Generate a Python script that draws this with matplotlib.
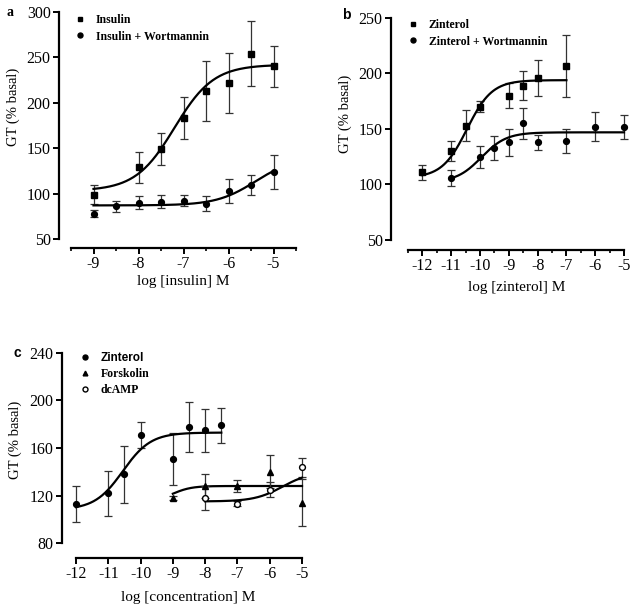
import numpy as np
import matplotlib
matplotlib.use("Agg")
import matplotlib.pyplot as plt
from matplotlib.ticker import MultipleLocator

plt.rcParams["axes.unicode_minus"] = False

W, H = 640, 611
SERIF = "Liberation Serif"
SANS = "Liberation Sans"

# ---- panel a: insulin +/- wortmannin ----
ins_x = [-9, -8, -7.5, -7, -6.5, -6, -5.5, -5]
ins_y = [99, 129, 149, 183, 213, 222, 254, 240]
ins_err = [10, 17, 18, 23, 33, 33, 36, 23]
ins_fit = (103, 242, -7.2, 1.0)  # bottom, top, logEC50, hill

insw_x = [-9, -8.5, -8, -7.5, -7, -6.5, -6, -5.5, -5]
insw_y = [78, 86, 90, 91, 92, 89, 103, 110, 124]
insw_err = [4, 6, 7, 7, 6, 8, 13, 11, 19]
insw_fit = (87, 140, -5.4, 1.0)

# ---- panel b: zinterol +/- wortmannin ----
zin_x = [-12, -11, -10.5, -10, -9, -8.5, -8, -7]
zin_y = [111, 130, 153, 170, 180, 189, 196, 207]
zin_err = [7, 9, 14, 5, 11, 13, 16, 28]
zin_fit = (106, 194, -10.45, 1.0)

zinw_x = [-11, -10, -9.5, -9, -8.5, -8, -7, -6, -5]
zinw_y = [106, 125, 133, 138, 155, 138, 139, 152, 152]
zinw_err = [7, 10, 11, 12, 14, 7, 11, 13, 11]
zinw_fit = (102, 147, -9.95, 1.0)

# ---- panel c: zinterol, forskolin, dcAMP ----
cz_x = [-12, -11, -10.5, -10, -9, -8.5, -8, -7.5]
cz_y = [113, 122, 138, 171, 151, 178, 175, 179]
cz_err = [15, 19, 24, 11, 22, 21, 18, 15]
cz_fit = (108, 173, -10.55, 1.0)

fsk_x = [-9, -8, -7, -6, -5]
fsk_y = [118, 128, 128, 140, 114]
fsk_err = [2, 10, 5, 14, 20]
fsk_fit = (115, 128, -9.0, 1.5)

dc_x = [-8, -7, -6, -5]
dc_y = [118, 113, 125, 144]
dc_err = [10, 2, 6, 8]
dc_fit = (115, 140, -5.6, 1.0)


def logistic(x, p):
    bottom, top, ec50, hill = p
    return bottom + (top - bottom) / (1 + 10 ** ((ec50 - x) * hill))


fig = plt.figure(figsize=(W / 100, H / 100), dpi=100)


def place(left, right, top, bottom):
    return fig.add_axes([left / W, 1 - bottom / H, (right - left) / W, (bottom - top) / H])


def style(ax, xlim, ylim, yticks, xmajor, xminor, off_left, off_bottom):
    ax.set_xlim(*xlim)
    ax.set_ylim(*ylim)
    for s in ["top", "right"]:
        ax.spines[s].set_visible(False)
    ax.spines["left"].set_position(("outward", off_left * 0.72))
    ax.spines["bottom"].set_position(("outward", off_bottom * 0.72))
    ax.spines["left"].set_bounds(*ylim)
    ax.spines["bottom"].set_bounds(*xlim)
    for s in ["left", "bottom"]:
        ax.spines[s].set_linewidth(1.6)
    ax.set_yticks(yticks)
    ax.xaxis.set_major_locator(MultipleLocator(xmajor))
    if xminor:
        ax.xaxis.set_minor_locator(MultipleLocator(xminor))
    ax.tick_params(which="major", direction="out", length=4, width=1.4, labelsize=11.5, pad=2)
    ax.tick_params(which="minor", direction="out", length=2.5, width=1.2)
    for lab in ax.get_xticklabels() + ax.get_yticklabels():
        lab.set_fontfamily(SERIF)
    ax.patch.set_alpha(0)


def series(ax, x, y, err, marker, fit, fill="black", ms=4.2):
    ax.errorbar(x, y, yerr=err, fmt="none", ecolor="#333333", elinewidth=0.9,
                capsize=3, capthick=0.9, clip_on=False, zorder=2)
    line, = ax.plot(x, y, linestyle="none", marker=marker, ms=ms, mfc=fill,
                    mec="black", mew=1.0, clip_on=False, zorder=3)
    xs = np.linspace(min(x), max(x), 200)
    ax.plot(xs, logistic(xs, fit), color="black", lw=1.6, clip_on=False, zorder=2)
    return line


def labels(ax, xl, yl, xpos, ypos):
    ax.set_xlabel(xl, fontfamily=SERIF, fontsize=11)
    ax.set_ylabel(yl, fontfamily=SERIF, fontsize=10.5)
    ax.xaxis.set_label_coords(xpos[0] / W, 1 - xpos[1] / H, transform=fig.transFigure)
    ax.yaxis.set_label_coords(ypos[0] / W, 1 - ypos[1] / H, transform=fig.transFigure)
    ax.xaxis.label.set_va("center")
    ax.yaxis.label.set_va("center")


def legend(ax, handles, names, x, y, spacing, fonts):
    leg = ax.legend(handles, names, loc="upper left", bbox_to_anchor=(x / W, 1 - y / H),
                    bbox_transform=fig.transFigure, frameon=False, borderpad=0,
                    handlelength=0.5, handletextpad=1.1, labelspacing=spacing,
                    fontsize=8.5, markerscale=0.85)
    for t, f in zip(leg.get_texts(), fonts):
        t.set_fontfamily(f)
        t.set_fontweight("bold")
    return leg


# panel a
ax_a = place(71, 296, 12, 239)
style(ax_a, (-9.5, -4.5), (50, 300), [50, 100, 150, 200, 250, 300], 1, 0.5, 12, 9)
h1 = series(ax_a, ins_x, ins_y, ins_err, "s", ins_fit)
h2 = series(ax_a, insw_x, insw_y, insw_err, "o", insw_fit)
labels(ax_a, "log [insulin] M", "GT (% basal)", (183, 281), (13, 107))
legend(ax_a, [h1, h2], ["Insulin", "Insulin + Wortmannin"], 71, 8, 0.4, [SERIF, SERIF])
fig.text(10 / W, 1 - 12 / H, "a", fontfamily=SERIF, fontweight="bold", fontsize=10,
         ha="center", va="center")

# panel b
ax_b = place(408, 624, 18, 240)
style(ax_b, (-12.5, -5), (50, 250), [50, 100, 150, 200, 250], 1, 0.5, 17, 10)
h1 = series(ax_b, zin_x, zin_y, zin_err, "s", zin_fit)
h2 = series(ax_b, zinw_x, zinw_y, zinw_err, "o", zinw_fit)
labels(ax_b, "log [zinterol] M", "GT (% basal)", (517, 288), (345, 114))
legend(ax_b, [h1, h2], ["Zinterol", "Zinterol + Wortmannin"], 404, 13, 0.4, [SERIF, SERIF])
fig.text(346 / W, 1 - 15 / H, "b", fontfamily=SANS, fontweight="bold", fontsize=10,
         ha="center", va="center")

# panel c
ax_c = place(76, 302, 353, 543)
style(ax_c, (-12, -5), (80, 240), [80, 120, 160, 200, 240], 1, None, 14, 15)
h1 = series(ax_c, cz_x, cz_y, cz_err, "o", cz_fit)
h2 = series(ax_c, fsk_x, fsk_y, fsk_err, "^", fsk_fit, ms=4)
h3 = series(ax_c, dc_x, dc_y, dc_err, "o", dc_fit, fill="white")
labels(ax_c, "log [concentration] M", "GT (% basal)", (188, 598), (15, 440))
legend(ax_c, [h1, h2, h3], ["Zinterol", "Forskolin", "dcAMP"], 76, 346, 0.35,
       [SANS, SERIF, SERIF])
fig.text(17 / W, 1 - 353 / H, "c", fontfamily=SANS, fontweight="bold", fontsize=10,
         ha="center", va="center")

fig.savefig("out.png", dpi=100, facecolor="white")
